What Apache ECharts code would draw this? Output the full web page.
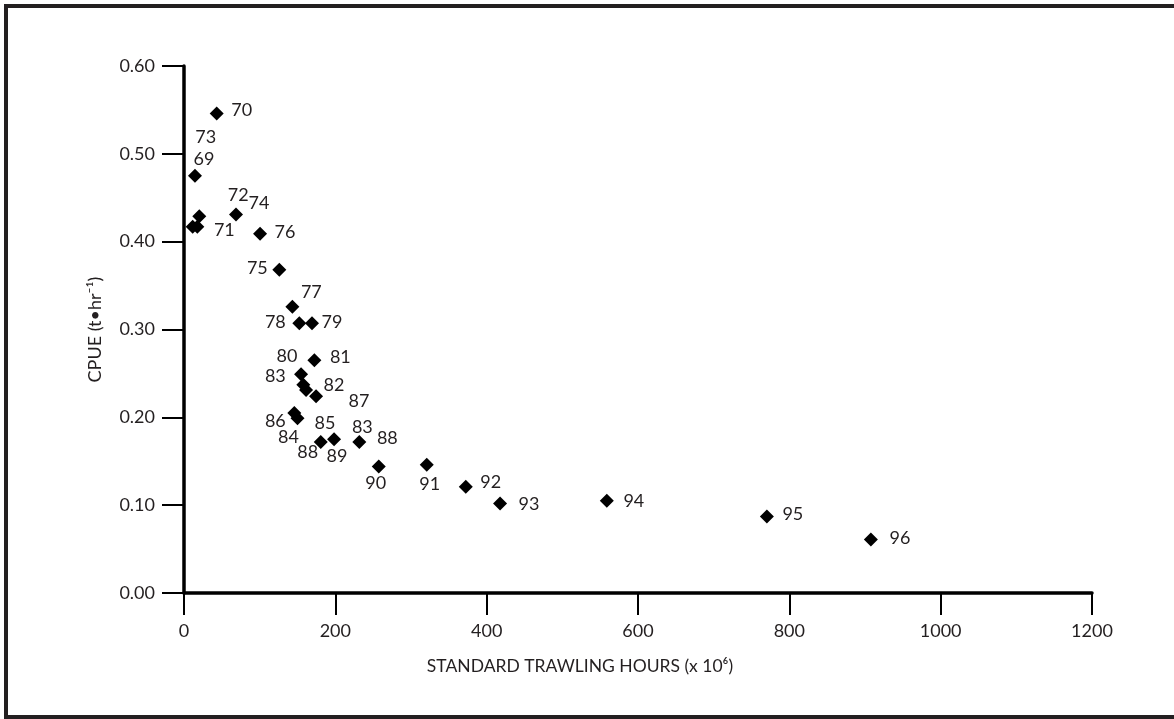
<!DOCTYPE html>
<html>
<head>
<meta charset="utf-8">
<script src="https://cdn.jsdelivr.net/npm/echarts@6/dist/echarts.min.js"></script>
<style>
  html, body { margin: 0; padding: 0; background: #fff; }
  #chart { width: 1174px; height: 719px; }
</style>
</head>
<body>
<div id="chart"></div>
<script>
// Fishing effort (standard trawling hours, x 10^6) against catch per unit effort
const effort = [43.2, 14.5, 20.2, 11.5, 17.6, 68.7, 100.5, 126, 143.2, 152.4, 169.2, 172.3, 154.7, 157.7,
                161.3, 174.5, 145.8, 150, 180.7, 198.3, 231.7, 257.4, 320.8, 372.4, 417.7, 558.8, 770.3, 907.8];
const cpue = [0.546, 0.475, 0.429, 0.417, 0.417, 0.431, 0.409, 0.368, 0.326, 0.307, 0.307, 0.265, 0.249, 0.237,
              0.231, 0.224, 0.205, 0.199, 0.172, 0.175, 0.172, 0.144, 0.146, 0.121, 0.102, 0.105, 0.087, 0.061];
// Year tags printed beside each point
const yearLabels = ['70', '69', '72', '73', '71', '74', '76', '75', '77', '78', '79', '81', '80', '83',
                    '87', '82', '86', '84', '88', '85', '83', '90', '91', '92', '93', '94', '95', '96'];
// Where each tag sits relative to its point (px)
const labelOffsets = [[25, -3], [9, -17], [39, -21], [13, -90], [27, 3], [23, -11], [25, -2], [-22, -2],
                      [19, -14], [-24, -1], [20, -1], [26, -3], [-14, -18], [-28, -9], [53, 11], [18, -11],
                      [-19, 8], [-9, 19], [-13, 10], [-9, -16], [3, -15], [-3, 17], [3, 19], [25, -5],
                      [29, 1], [27, 0], [26, -2], [29, -1]];
// Points that carry a second tag
const extraTagIndex = [19, 20];
const extraTags = ['89', '88'];
const extraOffsets = [[3, 17], [28, -4]];

const xTicks = { min: 0, max: 1200, interval: 200 };
const yTicks = { min: 0, max: 0.6, interval: 0.1 };

const FONT = 'Lato';
const INK = '#231f20';

const chart = echarts.init(document.getElementById('chart'), null, { renderer: 'canvas' });

const mainData = effort.map((x, i) => ({
  value: [x, cpue[i]],
  label: { formatter: yearLabels[i], offset: labelOffsets[i] }
}));
const extraData = extraTagIndex.map((idx, k) => ({
  value: [effort[idx], cpue[idx]],
  label: { formatter: extraTags[k], offset: extraOffsets[k] }
}));

const labelStyle = {
  show: true,
  position: 'inside',
  color: INK,
  fontFamily: FONT,
  fontSize: 18
};

chart.setOption({
  animation: false,
  backgroundColor: '#fff',
  graphic: [{
    type: 'rect',
    shape: { x: 6, y: 6, width: 1200, height: 711 },
    style: { fill: 'none', stroke: '#231f20', lineWidth: 4 },
    silent: true
  }],
  grid: { left: 184, right: 82, top: 66, bottom: 126 },
  xAxis: {
    type: 'value',
    min: xTicks.min, max: xTicks.max, interval: xTicks.interval,
    name: 'STANDARD TRAWLING HOURS (x 10\u2076)',
    nameLocation: 'middle',
    nameGap: 64,
    nameTextStyle: { color: INK, fontFamily: FONT, fontSize: 17.5, padding: [0, 116, 0, 0] },
    axisLine: { show: true, lineStyle: { color: '#000', width: 3.5 } },
    axisTick: { show: true, length: 22, lineStyle: { color: '#000', width: 2 } },
    axisLabel: { color: INK, fontFamily: FONT, fontSize: 18, margin: 29, formatter: v => String(v) },
    splitLine: { show: false }
  },
  yAxis: {
    type: 'value',
    min: yTicks.min, max: yTicks.max, interval: yTicks.interval,
    name: 'CPUE (t\u2022hr\u207B\u00B9)',
    nameLocation: 'middle',
    nameGap: 80,
    nameRotate: 90,
    nameTextStyle: { color: INK, fontFamily: FONT, fontSize: 18 },
    axisLine: { show: true, lineStyle: { color: '#000', width: 3.5 } },
    axisTick: { show: true, length: 22, lineStyle: { color: '#000', width: 2 } },
    axisLabel: { color: INK, fontFamily: FONT, fontSize: 18, margin: 29, formatter: v => v.toFixed(2) },
    splitLine: { show: false }
  },
  series: [
    {
      type: 'scatter',
      symbol: 'diamond',
      symbolSize: 14,
      itemStyle: { color: '#000', opacity: 1 },
      label: labelStyle,
      data: mainData,
      z: 3
    },
    {
      type: 'scatter',
      symbol: 'circle',
      symbolSize: 1,
      itemStyle: { color: 'rgba(0,0,0,0)', opacity: 1 },
      label: labelStyle,
      data: extraData,
      z: 2
    }
  ]
});
</script>
</body>
</html>
